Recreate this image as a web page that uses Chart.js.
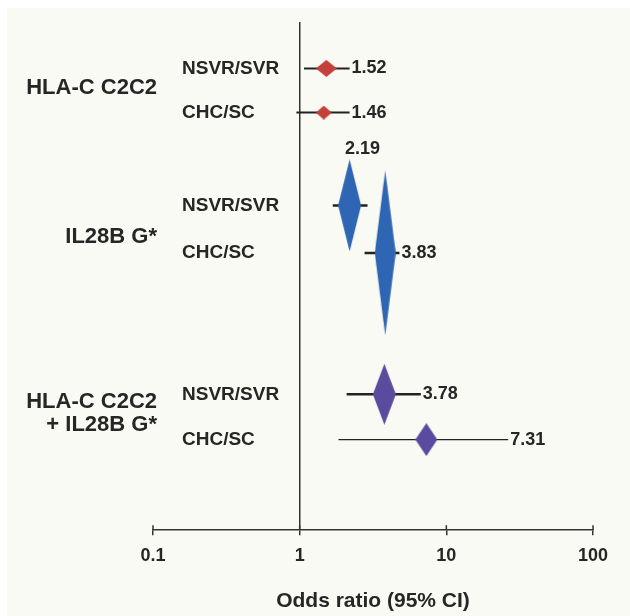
<!DOCTYPE html>
<html>
<head>
<meta charset="utf-8">
<script src="https://cdn.jsdelivr.net/npm/chart.js@4.4.1/dist/chart.umd.min.js"></script>
<style>
html, body { margin: 0; padding: 0; background: #fff; }
#wrap { width: 630px; height: 616px; }
</style>
</head>
<body>
<div id="wrap"><canvas id="chartOR"></canvas></div>
<script>
// ==============================
// Data
// ==============================
const groupLabels = [['HLA-C C2C2'], ['IL28B G*'], ['HLA-C C2C2', '+ IL28B G*']];
const rowLabels = ['NSVR/SVR', 'CHC/SC', 'NSVR/SVR', 'CHC/SC', 'NSVR/SVR', 'CHC/SC'];
const rowGroup = [0, 0, 1, 1, 2, 2];
const oddsRatio = [1.52, 1.46, 2.19, 3.83, 3.78, 7.31];
const ciLower = [1.07, 0.95, 1.68, 2.77, 2.09, 1.84];
const ciUpper = [2.19, 2.19, 2.90, 4.79, 6.70, 26.4];
const tickValues = [0.1, 1, 10, 100];
const tickLabels = ['0.1', '1', '10', '100'];

// ==============================
// Layout / style
// ==============================
const rowPos = [2.1, 4.1, 8.3, 10.45, 16.85, 18.9];   // slot on hidden y scale
const groupPos = [2.99, 9.71, 17.72];
const diamondW = [21, 16, 23, 21, 23, 22];
const diamondH = [17, 14, 92, 165, 61, 33];
const groupColor = ['#c4403a', '#2f66b3', '#5b4b9f'];
const ciWidth = [2, 2, 2.5, 2.5, 2.5, 1.3];
const valuePlace = ['right', 'right', 'top', 'right', 'right', 'right'];
const FONT = '"Liberation Sans", Arial, sans-serif';
const INK = '#262626';

function makeDiamond(w, h, color) {
    const c = document.createElement('canvas');
    c.width = w; c.height = h;
    const g = c.getContext('2d');
    g.fillStyle = color;
    g.beginPath();
    g.moveTo(w / 2, 0); g.lineTo(w, h / 2); g.lineTo(w / 2, h); g.lineTo(0, h / 2);
    g.closePath();
    g.fill();
    return c;
}

// ==============================
// Plugins
// ==============================
const paperPlugin = {
    id: 'paper',
    beforeDraw(chart) {
        const ctx = chart.ctx;
        ctx.save();
        ctx.fillStyle = '#ffffff';
        ctx.fillRect(0, 0, chart.width, chart.height);
        ctx.fillStyle = '#fafaf5';
        ctx.fillRect(7, 8, chart.width - 7, chart.height - 8);
        ctx.restore();
    }
};

const textPlugin = {
    id: 'forestText',
    afterDraw(chart) {
        const { ctx, chartArea, scales: { x, y } } = chart;
        ctx.save();
        ctx.fillStyle = INK;
        ctx.textBaseline = 'middle';

        // group labels
        ctx.font = 'bold 22px ' + FONT;
        ctx.textAlign = 'right';
        groupLabels.forEach((lines, g) => {
            const cy = y.getPixelForValue(groupPos[g]);
            lines.forEach((t, k) => ctx.fillText(t, chartArea.left + 4, cy + (k - (lines.length - 1) / 2) * 23));
        });

        // row labels
        ctx.font = 'bold 19px ' + FONT;
        ctx.textAlign = 'left';
        rowLabels.forEach((t, i) => ctx.fillText(t, chartArea.left + 29, y.getPixelForValue(rowPos[i])));

        // values
        ctx.font = 'bold 18px ' + FONT;
        oddsRatio.forEach((v, i) => {
            const py = y.getPixelForValue(rowPos[i]);
            if (valuePlace[i] === 'top') {
                ctx.textAlign = 'center';
                ctx.fillText(v.toFixed(2), x.getPixelForValue(v) + 13, py - diamondH[i] / 2 - 10);
            } else {
                ctx.textAlign = 'left';
                ctx.fillText(v.toFixed(2), x.getPixelForValue(ciUpper[i]) + 2, py);
            }
        });

        // inner half of tick marks
        ctx.strokeStyle = '#333';
        ctx.lineWidth = 1.5;
        tickValues.forEach(t => {
            const px = x.getPixelForValue(t);
            ctx.beginPath();
            ctx.moveTo(px, chartArea.bottom - 5);
            ctx.lineTo(px, chartArea.bottom);
            ctx.stroke();
        });
        ctx.restore();
    }
};

// ==============================
// Chart
// ==============================
function renderChart() {
    const ciSets = oddsRatio.map((v, i) => ({
        type: 'line',
        data: [{ x: ciLower[i], y: rowPos[i] }, { x: ciUpper[i], y: rowPos[i] }],
        borderColor: '#222',
        borderWidth: ciWidth[i],
        pointRadius: 0,
        showLine: true,
        fill: false,
        order: 2
    }));
    const diamonds = oddsRatio.map((v, i) => makeDiamond(diamondW[i], diamondH[i], groupColor[rowGroup[i]]));
    const diamondSet = {
        type: 'scatter',
        data: oddsRatio.map((v, i) => ({ x: v, y: rowPos[i] })),
        pointStyle: diamonds,
        pointRadius: 1,
        order: 1
    };

    new Chart(document.getElementById('chartOR'), {
        type: 'scatter',
        data: { datasets: [...ciSets, diamondSet] },
        options: {
            responsive: true,
            maintainAspectRatio: false,
            animation: false,
            events: [],
            layout: { padding: { left: 153, right: 37, top: 22, bottom: 2 } },
            plugins: { legend: { display: false }, tooltip: { enabled: false } },
            scales: {
                x: {
                    type: 'logarithmic',
                    min: 0.1,
                    max: 100,
                    afterBuildTicks: s => { s.ticks = tickValues.map(v => ({ value: v })); },
                    ticks: {
                        autoSkip: false,
                        maxRotation: 0,
                        padding: 10,
                        color: INK,
                        font: { family: FONT, size: 18, weight: 'bold' },
                        callback: v => tickLabels[tickValues.indexOf(v)]
                    },
                    grid: {
                        drawOnChartArea: true,
                        color: c => (c.tick && c.tick.value === 1) ? '#333' : 'rgba(0,0,0,0)',
                        lineWidth: 1.5,
                        tickColor: '#333',
                        tickWidth: 1.5,
                        tickLength: 5
                    },
                    border: { display: true, color: '#333', width: 1.5 },
                    title: {
                        display: true,
                        text: 'Odds ratio (95% CI)',
                        color: INK,
                        font: { family: FONT, size: 21, weight: 'bold' },
                        padding: { top: 12, bottom: 0 }
                    }
                },
                y: { type: 'linear', display: false, reverse: true, min: 0, max: 23 }
            }
        },
        plugins: [paperPlugin, textPlugin]
    });
}

renderChart();
</script>
</body>
</html>
